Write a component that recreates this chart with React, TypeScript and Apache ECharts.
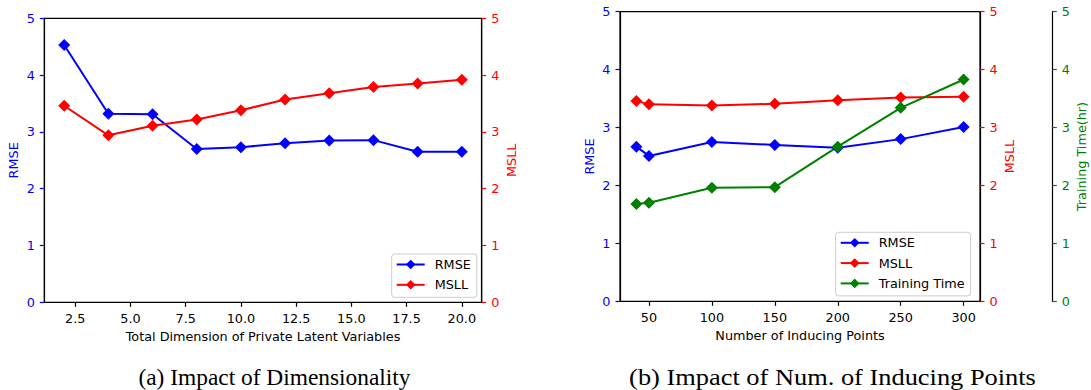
import React, { useEffect, useRef } from "react";
import * as echarts from "echarts";

// ---- Data: (a) Impact of Dimensionality ----
const dimX = [2, 4, 6, 8, 10, 12, 14, 16, 18, 20];
const dimRMSE = [4.53, 3.32, 3.31, 2.7, 2.73, 2.8, 2.85, 2.855, 2.65, 2.65];
const dimMSLL = [3.46, 2.94, 3.11, 3.22, 3.38, 3.57, 3.68, 3.79, 3.85, 3.92];
const dimTicks = [2.5, 5, 7.5, 10, 12.5, 15, 17.5, 20];

// ---- Data: (b) Impact of Num. of Inducing Points ----
const indX = [40, 50, 100, 150, 200, 250, 300];
const indRMSE = [2.67, 2.51, 2.75, 2.7, 2.65, 2.8, 3.01];
const indMSLL = [3.46, 3.4, 3.38, 3.41, 3.47, 3.52, 3.53];
const indTime = [1.68, 1.7, 1.96, 1.97, 2.67, 3.34, 3.83];
const indTicks = [50, 100, 150, 200, 250, 300];

const captionA = "(a) Impact of Dimensionality";
const captionB = "(b) Impact of Num. of Inducing Points";

const BLUE = "#0000ff";
const RED = "#ff0000";
const GREEN = "#008000";
const FONT = "DejaVu Sans";
const FS = 12.8;

const pairs = (xs: number[], ys: number[]) => xs.map((x, i) => [x, ys[i]]);

function yAxisCfg(grid: number, pos: string, color: string, name: string, gap: number, offset = 0) {
  return {
    type: "value",
    gridIndex: grid,
    position: pos,
    offset,
    min: 0,
    max: 5,
    interval: 1,
    name,
    nameLocation: "middle",
    nameGap: gap,
    nameRotate: 90,
    nameTextStyle: { color, fontSize: FS, fontFamily: FONT },
    axisLine: { show: true, onZero: false, lineStyle: { color: "#000", width: 1.2 } },
    axisTick: { show: true, inside: false, length: 4.5, lineStyle: { color, width: 1.2 } },
    axisLabel: { color, fontSize: FS, fontFamily: FONT, margin: 9.5 },
    splitLine: { show: false },
  };
}

function xAxisCfg(grid: number, min: number, max: number, ticks: number[], name: string, dec: number) {
  return {
    type: "value",
    gridIndex: grid,
    min,
    max,
    name,
    nameLocation: "middle",
    nameGap: 27,
    nameTextStyle: { color: "#000", fontSize: FS, fontFamily: FONT },
    axisLine: { show: true, onZero: false, lineStyle: { color: "#000", width: 1.2 } },
    axisTick: { show: true, length: 4.5, customValues: ticks, lineStyle: { color: "#000", width: 1.2 } },
    axisLabel: {
      show: true,
      customValues: ticks,
      color: "#000",
      fontSize: FS,
      fontFamily: FONT,
      margin: 9.5,
      formatter: (v: number) => v.toFixed(dec),
    },
    splitLine: { show: false },
  };
}

function lineSeries(name: string, x: number, y: number, xs: number[], ys: number[], color: string) {
  return {
    type: "line",
    name,
    xAxisIndex: x,
    yAxisIndex: y,
    data: pairs(xs, ys),
    symbol: "diamond",
    symbolSize: 12,
    color,
    itemStyle: { color },
    lineStyle: { color, width: 2 },
  };
}

export default function App() {
  const ref = useRef<HTMLDivElement>(null);
  useEffect(() => {
    if (!ref.current) return;
    const chart = echarts.init(ref.current, undefined, { renderer: "svg" });
    const legendCommon = {
      orient: "vertical",
      itemWidth: 28,
      itemHeight: 12,
      itemGap: 7.3,
      backgroundColor: "rgba(255,255,255,0.8)",
      borderColor: "#cccccc",
      borderWidth: 1,
      borderRadius: 3,
      textStyle: { color: "#000", fontSize: FS, fontFamily: FONT, padding: [0, 0, 0, 5], lineHeight: 12 },
    };
    chart.setOption({
      animation: false,
      backgroundColor: "#fff",
      grid: [
        { left: 44.3, top: 18.3, width: 437.4, height: 284, show: true, borderColor: "#000", borderWidth: 1.2, backgroundColor: "transparent" },
        { left: 620, top: 11.7, width: 360, height: 289.6, show: true, borderColor: "#000", borderWidth: 1.2, backgroundColor: "transparent" },
      ],
      xAxis: [
        xAxisCfg(0, 1.1, 20.9, dimTicks, "Total Dimension of Private Latent Variables", 1),
        xAxisCfg(1, 27, 313, indTicks, "Number of Inducing Points", 0),
      ],
      yAxis: [
        yAxisCfg(0, "left", BLUE, "RMSE", 24.5),
        yAxisCfg(0, "right", RED, "MSLL", 23),
        yAxisCfg(1, "left", BLUE, "RMSE", 24.5),
        yAxisCfg(1, "right", RED, "MSLL", 22.5),
        yAxisCfg(1, "right", GREEN, "Training Time(hr)", 23, 72.3),
      ],
      legend: [
        { ...legendCommon, left: 391.7, top: 254, padding: [4, 6, 6, 4], data: ["RMSE", "MSLL"] },
        { ...legendCommon, left: 835.7, top: 232.3, padding: [4, 6, 6, 4], data: ["RMSE", "MSLL", "Training Time"] },
      ],
      series: [
        lineSeries("RMSE", 0, 0, dimX, dimRMSE, BLUE),
        lineSeries("MSLL", 0, 1, dimX, dimMSLL, RED),
        lineSeries("RMSE", 1, 2, indX, indRMSE, BLUE),
        lineSeries("MSLL", 1, 3, indX, indMSLL, RED),
        lineSeries("Training Time", 1, 4, indX, indTime, GREEN),
      ],
      graphic: [
        {
          type: "text",
          x: 274.5,
          y: 377,
          scaleX: 0.975,
          style: { text: captionA, fontFamily: "Liberation Serif", fontSize: 24, fill: "#000", textAlign: "center", textVerticalAlign: "middle" },
        },
        {
          type: "text",
          x: 832.5,
          y: 377,
          scaleX: 1.1,
          style: { text: captionB, fontFamily: "Liberation Serif", fontSize: 24, fill: "#000", textAlign: "center", textVerticalAlign: "middle" },
        },
      ],
    });
    return () => chart.dispose();
  }, []);
  return <div ref={ref} style={{ position: "absolute", left: 0, top: 0, width: 1091, height: 390 }} />;
}
